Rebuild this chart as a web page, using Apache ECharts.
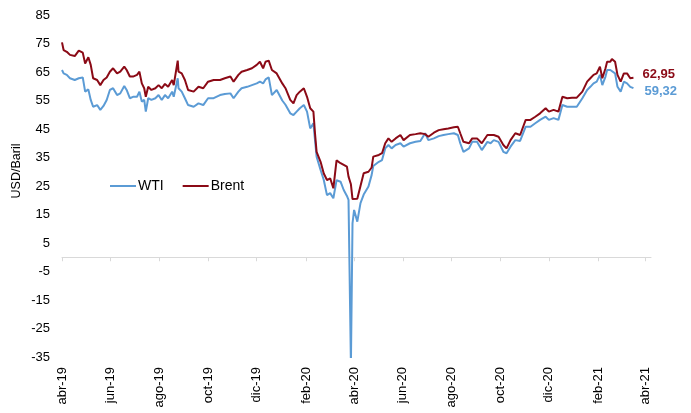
<!DOCTYPE html>
<html>
<head>
<meta charset="utf-8">
<script src="https://cdn.jsdelivr.net/npm/echarts@6/dist/echarts.min.js"></script>
<style>
html,body{margin:0;padding:0;background:#fff;}
#chart{width:691px;height:413px;}
</style>
</head>
<body>
<div id="chart"></div>
<script>
var dates = [
	'2019-04-24','2019-04-26','2019-04-30','2019-05-04','2019-05-10','2019-05-15','2019-05-20','2019-05-23','2019-05-27','2019-05-30',
	'2019-06-02','2019-06-07','2019-06-11','2019-06-15','2019-06-19','2019-06-23','2019-06-27','2019-07-02','2019-07-06','2019-07-11',
	'2019-07-14','2019-07-18','2019-07-22','2019-07-27','2019-07-30','2019-08-02','2019-08-05','2019-08-07','2019-08-10','2019-08-14',
	'2019-08-19','2019-08-23','2019-08-27','2019-08-31','2019-09-04','2019-09-09','2019-09-11','2019-09-16','2019-09-17','2019-09-21',
	'2019-09-25','2019-09-29','2019-10-06','2019-10-12','2019-10-18','2019-10-24','2019-10-31','2019-11-08','2019-11-14','2019-11-21',
	'2019-11-25','2019-12-01','2019-12-05','2019-12-12','2019-12-18','2019-12-24','2019-12-28','2020-01-01','2020-01-04','2020-01-08',
	'2020-01-12','2020-01-18','2020-01-25','2020-01-29','2020-02-04','2020-02-08','2020-02-12','2020-02-16','2020-02-21','2020-02-25',
	'2020-02-29','2020-03-04','2020-03-06','2020-03-08','2020-03-13','2020-03-17','2020-03-21','2020-03-25','2020-03-29','2020-04-02',
	'2020-04-07','2020-04-11','2020-04-15','2020-04-17','2020-04-20','2020-04-22','2020-04-24','2020-04-28','2020-05-02','2020-05-06',
	'2020-05-12','2020-05-16','2020-05-18','2020-05-25','2020-05-29','2020-06-02','2020-06-06','2020-06-10','2020-06-15','2020-06-21',
	'2020-06-25','2020-07-03','2020-07-10','2020-07-16','2020-07-22','2020-07-26','2020-08-02','2020-08-08','2020-08-14','2020-08-20',
	'2020-08-27','2020-09-01','2020-09-04','2020-09-08','2020-09-15','2020-09-19','2020-09-25','2020-10-01','2020-10-08','2020-10-12',
	'2020-10-16','2020-10-18','2020-10-22','2020-10-24','2020-10-28','2020-11-01','2020-11-06','2020-11-12','2020-11-18','2020-11-25',
	'2020-12-01','2020-12-07','2020-12-13','2020-12-20','2020-12-24','2020-12-30','2021-01-05','2021-01-10','2021-01-16','2021-01-22',
	'2021-01-28','2021-02-04','2021-02-10','2021-02-14','2021-02-18','2021-02-22','2021-02-26','2021-03-01','2021-03-05','2021-03-07',
	'2021-03-11','2021-03-13','2021-03-17','2021-03-20','2021-03-24','2021-03-28','2021-04-01','2021-04-05','2021-04-09'
];

var wti = [
	65.7,64.5,64.0,62.8,62.2,62.8,63.1,58.1,58.9,55.2,
	52.8,53.4,51.7,53.1,55.2,58.7,59.3,56.9,57.5,60.1,
	58.7,55.8,56.3,56.3,58.1,54.6,55.2,51.1,55.8,55.2,
	55.8,56.9,55.2,56.9,55.8,58.1,56.3,62.8,59.3,58.1,
	55.8,53.4,52.8,54.0,53.4,55.8,55.8,56.9,57.3,57.5,
	55.8,58.1,59.3,59.8,60.4,61.0,61.6,61.0,62.4,63.1,
	56.9,58.7,55.0,53.5,50.5,49.9,51.1,52.3,53.4,51.1,
	45.2,47.0,41.1,35.3,30.6,27.1,21.8,22.5,20.7,27.0,
	26.5,23.6,21.5,20.1,-37.6,11.9,16.6,12.5,19.0,22.0,
	24.8,28.9,32.0,33.5,34.1,38.2,39.4,38.2,39.4,40.0,
	38.8,40.0,40.5,40.8,43.5,41.1,41.7,42.5,42.9,43.2,
	43.5,42.9,40.0,37.0,38.2,40.5,40.5,37.6,40.5,40.0,
	41.1,41.1,40.5,40.0,37.0,36.5,38.8,41.1,40.8,45.8,
	45.8,47.0,48.2,49.3,48.2,48.8,48.2,53.4,52.8,52.8,
	52.8,55.8,58.7,59.8,61.0,61.6,64.0,60.4,63.4,65.7,
	65.7,65.4,64.5,59.8,58.1,61.6,61.0,59.8,59.32
];

var brent = [
	75.4,72.7,72.1,71.0,70.6,72.5,71.8,68.0,70.2,67.5,
	62.8,62.2,60.4,62.2,63.1,65.1,66.3,64.5,65.1,66.9,
	65.7,63.4,63.4,64.0,65.1,61.0,59.3,56.3,59.8,58.7,
	59.3,60.4,59.3,60.8,59.8,62.2,60.4,69.0,65.1,64.5,
	62.2,58.7,58.1,59.8,59.3,61.6,62.2,62.2,62.8,63.4,
	61.6,64.0,65.1,65.7,66.3,67.5,68.6,66.3,68.6,69.0,
	65.7,64.5,61.0,59.3,55.2,54.0,56.9,58.1,59.3,56.3,
	52.3,51.1,43.5,37.0,33.5,29.4,27.1,27.7,24.2,34.0,
	33.0,32.4,31.8,28.3,25.6,20.4,20.1,20.5,25.0,29.5,
	30.0,31.5,35.3,35.9,36.5,40.0,41.7,40.5,41.7,42.9,
	41.1,42.9,43.2,43.5,43.2,42.3,43.7,44.6,44.9,45.2,
	45.6,45.8,43.5,40.5,40.0,41.7,41.7,40.0,42.9,42.9,
	42.9,43.5,42.3,42.3,39.4,38.2,41.1,43.5,42.9,48.2,
	48.2,49.3,50.5,52.3,51.1,51.7,51.1,56.3,55.8,56.0,
	56.0,58.1,61.6,62.8,64.0,64.5,66.9,62.8,66.3,68.6,
	68.6,69.6,68.6,64.0,61.6,64.5,64.5,62.8,62.95
];

var tickDates = ['2019-04-24','2019-06-24','2019-08-24','2019-10-24','2019-12-24','2020-02-24',
	'2020-04-24','2020-06-24','2020-08-24','2020-10-24','2020-12-24','2021-02-24','2021-04-24'];
var tickLabels = ['abr-19','jun-19','ago-19','oct-19','dic-19','feb-20',
	'abr-20','jun-20','ago-20','oct-20','dic-20','feb-21','abr-21'];
var axisStart = '2019-04-24';
var axisEnd = '2021-05-01';

var FONT = '"Liberation Sans", Arial, sans-serif';

// dates -> timestamps, drawn on a plain value axis
function t(d) { return echarts.time.parse(d).getTime(); }
var tickTimes = tickDates.map(t);

function pairs(vals) {
	return dates.map(function (d, i) { return [t(d), vals[i]]; });
}
function comma(v) {
	return v.toFixed(2).replace('.', ',');
}

var chart = echarts.init(document.getElementById('chart'));

var option = {
	animation: false,
	textStyle: { fontFamily: FONT },
	grid: { left: 62, right: 40, top: 15, bottom: 56, containLabel: false },
	legend: {
		left: 105,
		top: 174,
		icon: 'rect',
		itemWidth: 26,
		itemHeight: 2,
		itemGap: 19,
		textStyle: { fontSize: 14, color: '#000', fontFamily: FONT, padding: [0, 0, 0, -3] },
		data: ['WTI', 'Brent']
	},
	graphic: [{
		type: 'text',
		x: 17,
		y: 171,
		rotation: Math.PI / 2,
		style: {
			text: 'USD/Baril',
			fontSize: 12.5,
			fontFamily: FONT,
			fill: '#000',
			align: 'center',
			verticalAlign: 'middle'
		}
	}],
	xAxis: [{
		type: 'value',
		min: t(axisStart),
		max: t(axisEnd),
		position: 'bottom',
		axisLine: { onZero: true, lineStyle: { color: '#d9d9d9', width: 1 } },
		axisTick: { show: true, length: 4, customValues: tickTimes, lineStyle: { color: '#d9d9d9' } },
		axisLabel: { show: false },
		splitLine: { show: false }
	}, {
		type: 'value',
		min: t(axisStart),
		max: t(axisEnd),
		position: 'bottom',
		axisLine: { show: false, onZero: false },
		axisTick: { show: false },
		splitLine: { show: false },
		axisLabel: {
			customValues: tickTimes,
			rotate: 90,
			margin: 10,
			fontSize: 13,
			color: '#000',
			fontFamily: FONT,
			formatter: function (val) {
				var i = tickTimes.indexOf(val);
				return i >= 0 ? tickLabels[i] : '';
			}
		}
	}],
	yAxis: {
		type: 'value',
		min: -35,
		max: 85,
		interval: 10,
		axisLine: { show: false },
		axisTick: { show: false },
		splitLine: { show: false },
		axisLabel: { fontSize: 13, color: '#000', margin: 12, fontFamily: FONT }
	},
	series: [{
		name: 'WTI',
		type: 'line',
		xAxisIndex: 0,
		showSymbol: false,
		symbol: 'none',
		lineStyle: { width: 2, color: '#5b9bd5' },
		itemStyle: { color: '#5b9bd5' },
		clip: true,
		endLabel: {
			show: true,
			distance: 11,
			offset: [0, 3],
			formatter: function (p) { return comma(p.value[1]); },
			color: '#5b9bd5',
			fontWeight: 'bold',
			fontSize: 13,
			fontFamily: FONT
		},
		data: pairs(wti)
	}, {
		name: 'Brent',
		type: 'line',
		xAxisIndex: 0,
		showSymbol: false,
		symbol: 'none',
		lineStyle: { width: 2, color: '#8b0a16' },
		itemStyle: { color: '#8b0a16' },
		clip: true,
		endLabel: {
			show: true,
			distance: 9,
			offset: [0, -3],
			formatter: function (p) { return comma(p.value[1]); },
			color: '#8b0a16',
			fontWeight: 'bold',
			fontSize: 13,
			fontFamily: FONT
		},
		data: pairs(brent)
	}]
};

chart.setOption(option);
</script>
</body>
</html>
